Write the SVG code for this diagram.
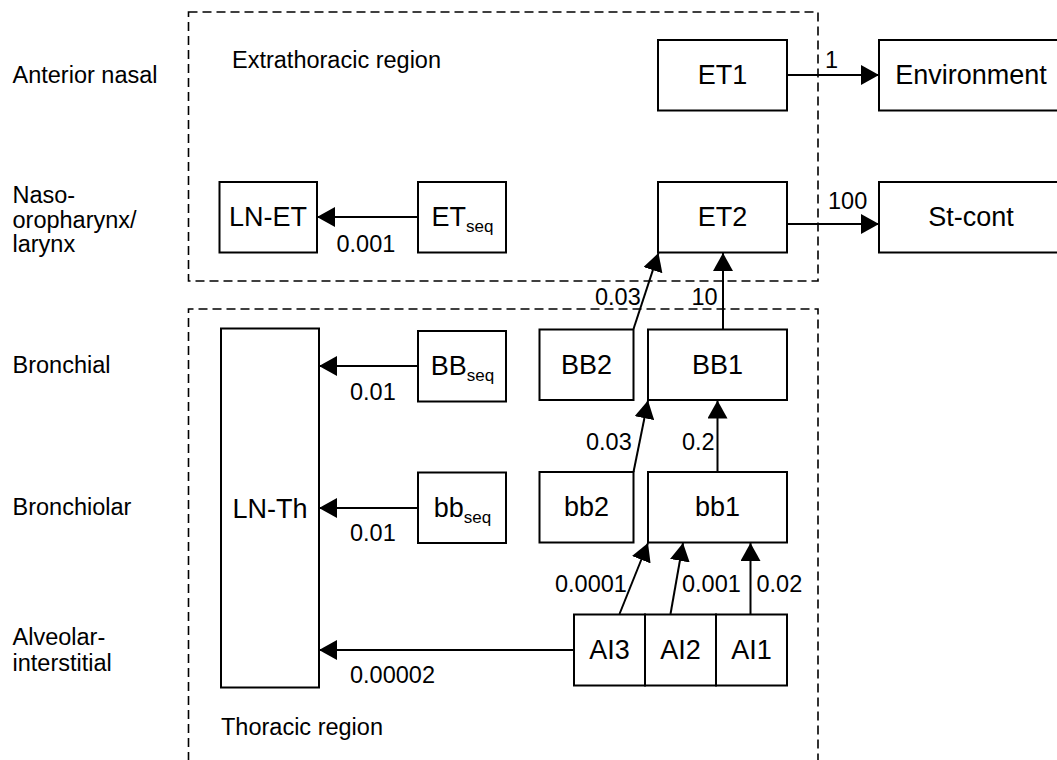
<svg xmlns="http://www.w3.org/2000/svg" width="1057" height="760" viewBox="0 0 1057 760">
<style>
text{font-family:"Liberation Sans",Arial,sans-serif;fill:#000}
.lbl{font-size:23.5px}
.box{fill:#fff;stroke:#000;stroke-width:2}
.bt{font-size:27px;text-anchor:middle}
.sub{font-size:17px}
.edge{fill:none;stroke:#000;stroke-width:2;marker-end:url(#ah)}
.region{fill:none;stroke:#000;stroke-width:1.6;stroke-dasharray:9 5}
</style>
<defs>
<marker id="ah" markerUnits="userSpaceOnUse" markerWidth="18" markerHeight="20" refX="18" refY="10" orient="auto" viewBox="0 0 18 20">
<path d="M0,0 L18,10 L0,20 Z" fill="#000"/>
</marker>
</defs>
<rect width="1057" height="760" fill="#fff"/>
<g id="regions">
<rect class="region" x="188.5" y="12" width="629.5" height="269"/>
<path class="region" d="M188.5,775 V309 H818 V775"/>
<text class="lbl" x="232" y="68">Extrathoracic region</text>
<text class="lbl" x="221" y="735">Thoracic region</text>
</g>
<g id="row-labels" class="lbl">
<text class="lbl" x="12.5" y="83">Anterior nasal</text>
<text class="lbl" x="12.5" y="203">Naso-</text>
<text class="lbl" x="12.5" y="227.5">oropharynx/</text>
<text class="lbl" x="12.5" y="252">larynx</text>
<text class="lbl" x="12.5" y="373">Bronchial</text>
<text class="lbl" x="12.5" y="515">Bronchiolar</text>
<text class="lbl" x="12.5" y="644.5">Alveolar-</text>
<text class="lbl" x="12.5" y="671">interstitial</text>
</g>
<g id="connectors">
<line class="edge" x1="787" y1="75" x2="879" y2="75"/>
<line class="edge" x1="787" y1="224" x2="879" y2="224"/>
<line class="edge" x1="418" y1="217" x2="317" y2="217"/>
<line class="edge" x1="418" y1="366" x2="319" y2="366"/>
<line class="edge" x1="418" y1="508" x2="319" y2="508"/>
<line class="edge" x1="574" y1="650" x2="319" y2="650"/>
<line class="edge" x1="633.5" y1="329" x2="658.5" y2="253"/>
<line class="edge" x1="723" y1="329" x2="723" y2="253"/>
<line class="edge" x1="633.5" y1="472" x2="648" y2="400.5"/>
<line class="edge" x1="717.5" y1="472" x2="717.5" y2="400.5"/>
<line class="edge" x1="619.5" y1="614" x2="648" y2="543"/>
<line class="edge" x1="670.5" y1="614" x2="683" y2="543"/>
<line class="edge" x1="750.5" y1="614" x2="750.5" y2="543"/>
<g class="lbl">
<text class="lbl" x="825" y="68">1</text>
<text class="lbl" x="828" y="209">100</text>
<text class="lbl" x="336.5" y="252">0.001</text>
<text class="lbl" x="350" y="400">0.01</text>
<text class="lbl" x="350" y="541">0.01</text>
<text class="lbl" x="350" y="683">0.00002</text>
<text class="lbl" x="595" y="305">0.03</text>
<text class="lbl" x="691.5" y="305">10</text>
<text class="lbl" x="586" y="450">0.03</text>
<text class="lbl" x="682" y="450">0.2</text>
<text class="lbl" x="555" y="592">0.0001</text>
<text class="lbl" x="682" y="592">0.001</text>
<text class="lbl" x="756.5" y="592">0.02</text>
</g>
</g>
<g id="ET1"><rect class="box" x="658" y="40" width="129" height="70.5"/><text class="bt" x="722.5" y="84">ET1</text></g>
<g id="Environment"><rect class="box" x="879" y="40" width="190" height="70.5"/><text class="bt" x="971" y="84">Environment</text></g>
<g id="ET2"><rect class="box" x="658" y="182" width="129" height="70.5"/><text class="bt" x="722.5" y="226">ET2</text></g>
<g id="St-cont"><rect class="box" x="879" y="182" width="190" height="70.5"/><text class="bt" x="971" y="226">St-cont</text></g>
<g id="LN-ET"><rect class="box" x="219.5" y="182" width="97.5" height="70.5"/><text class="bt" x="268" y="226">LN-ET</text></g>
<g id="ETseq"><rect class="box" x="418" y="182" width="88" height="70.5"/><text class="bt" x="462.5" y="226">ET<tspan class="sub" dy="6">seq</tspan></text></g>
<g id="LN-Th"><rect class="box" x="221" y="328.5" width="98" height="359"/><text class="bt" x="270" y="517.5">LN-Th</text></g>
<g id="BBseq"><rect class="box" x="418" y="331" width="88" height="70.5"/><text class="bt" x="462.5" y="375">BB<tspan class="sub" dy="6">seq</tspan></text></g>
<g id="bbseq"><rect class="box" x="418" y="472.5" width="88" height="70.5"/><text class="bt" x="462.5" y="517">bb<tspan class="sub" dy="6">seq</tspan></text></g>
<g id="BB2"><rect class="box" x="539.5" y="329.5" width="94" height="70.5"/><text class="bt" x="586.5" y="373.5">BB2</text></g>
<g id="BB1"><rect class="box" x="648" y="329.5" width="139" height="70.5"/><text class="bt" x="717.5" y="373.5">BB1</text></g>
<g id="bb2"><rect class="box" x="539.5" y="472" width="94" height="70.5"/><text class="bt" x="586.5" y="516">bb2</text></g>
<g id="bb1"><rect class="box" x="648" y="472" width="139" height="70.5"/><text class="bt" x="717.5" y="516">bb1</text></g>
<g id="AI3"><rect class="box" x="574" y="614.5" width="71" height="71"/><text class="bt" x="609.5" y="658.5">AI3</text></g>
<g id="AI2"><rect class="box" x="645" y="614.5" width="71" height="71"/><text class="bt" x="680.5" y="658.5">AI2</text></g>
<g id="AI1"><rect class="box" x="716" y="614.5" width="71" height="71"/><text class="bt" x="751.5" y="658.5">AI1</text></g>
</svg>
